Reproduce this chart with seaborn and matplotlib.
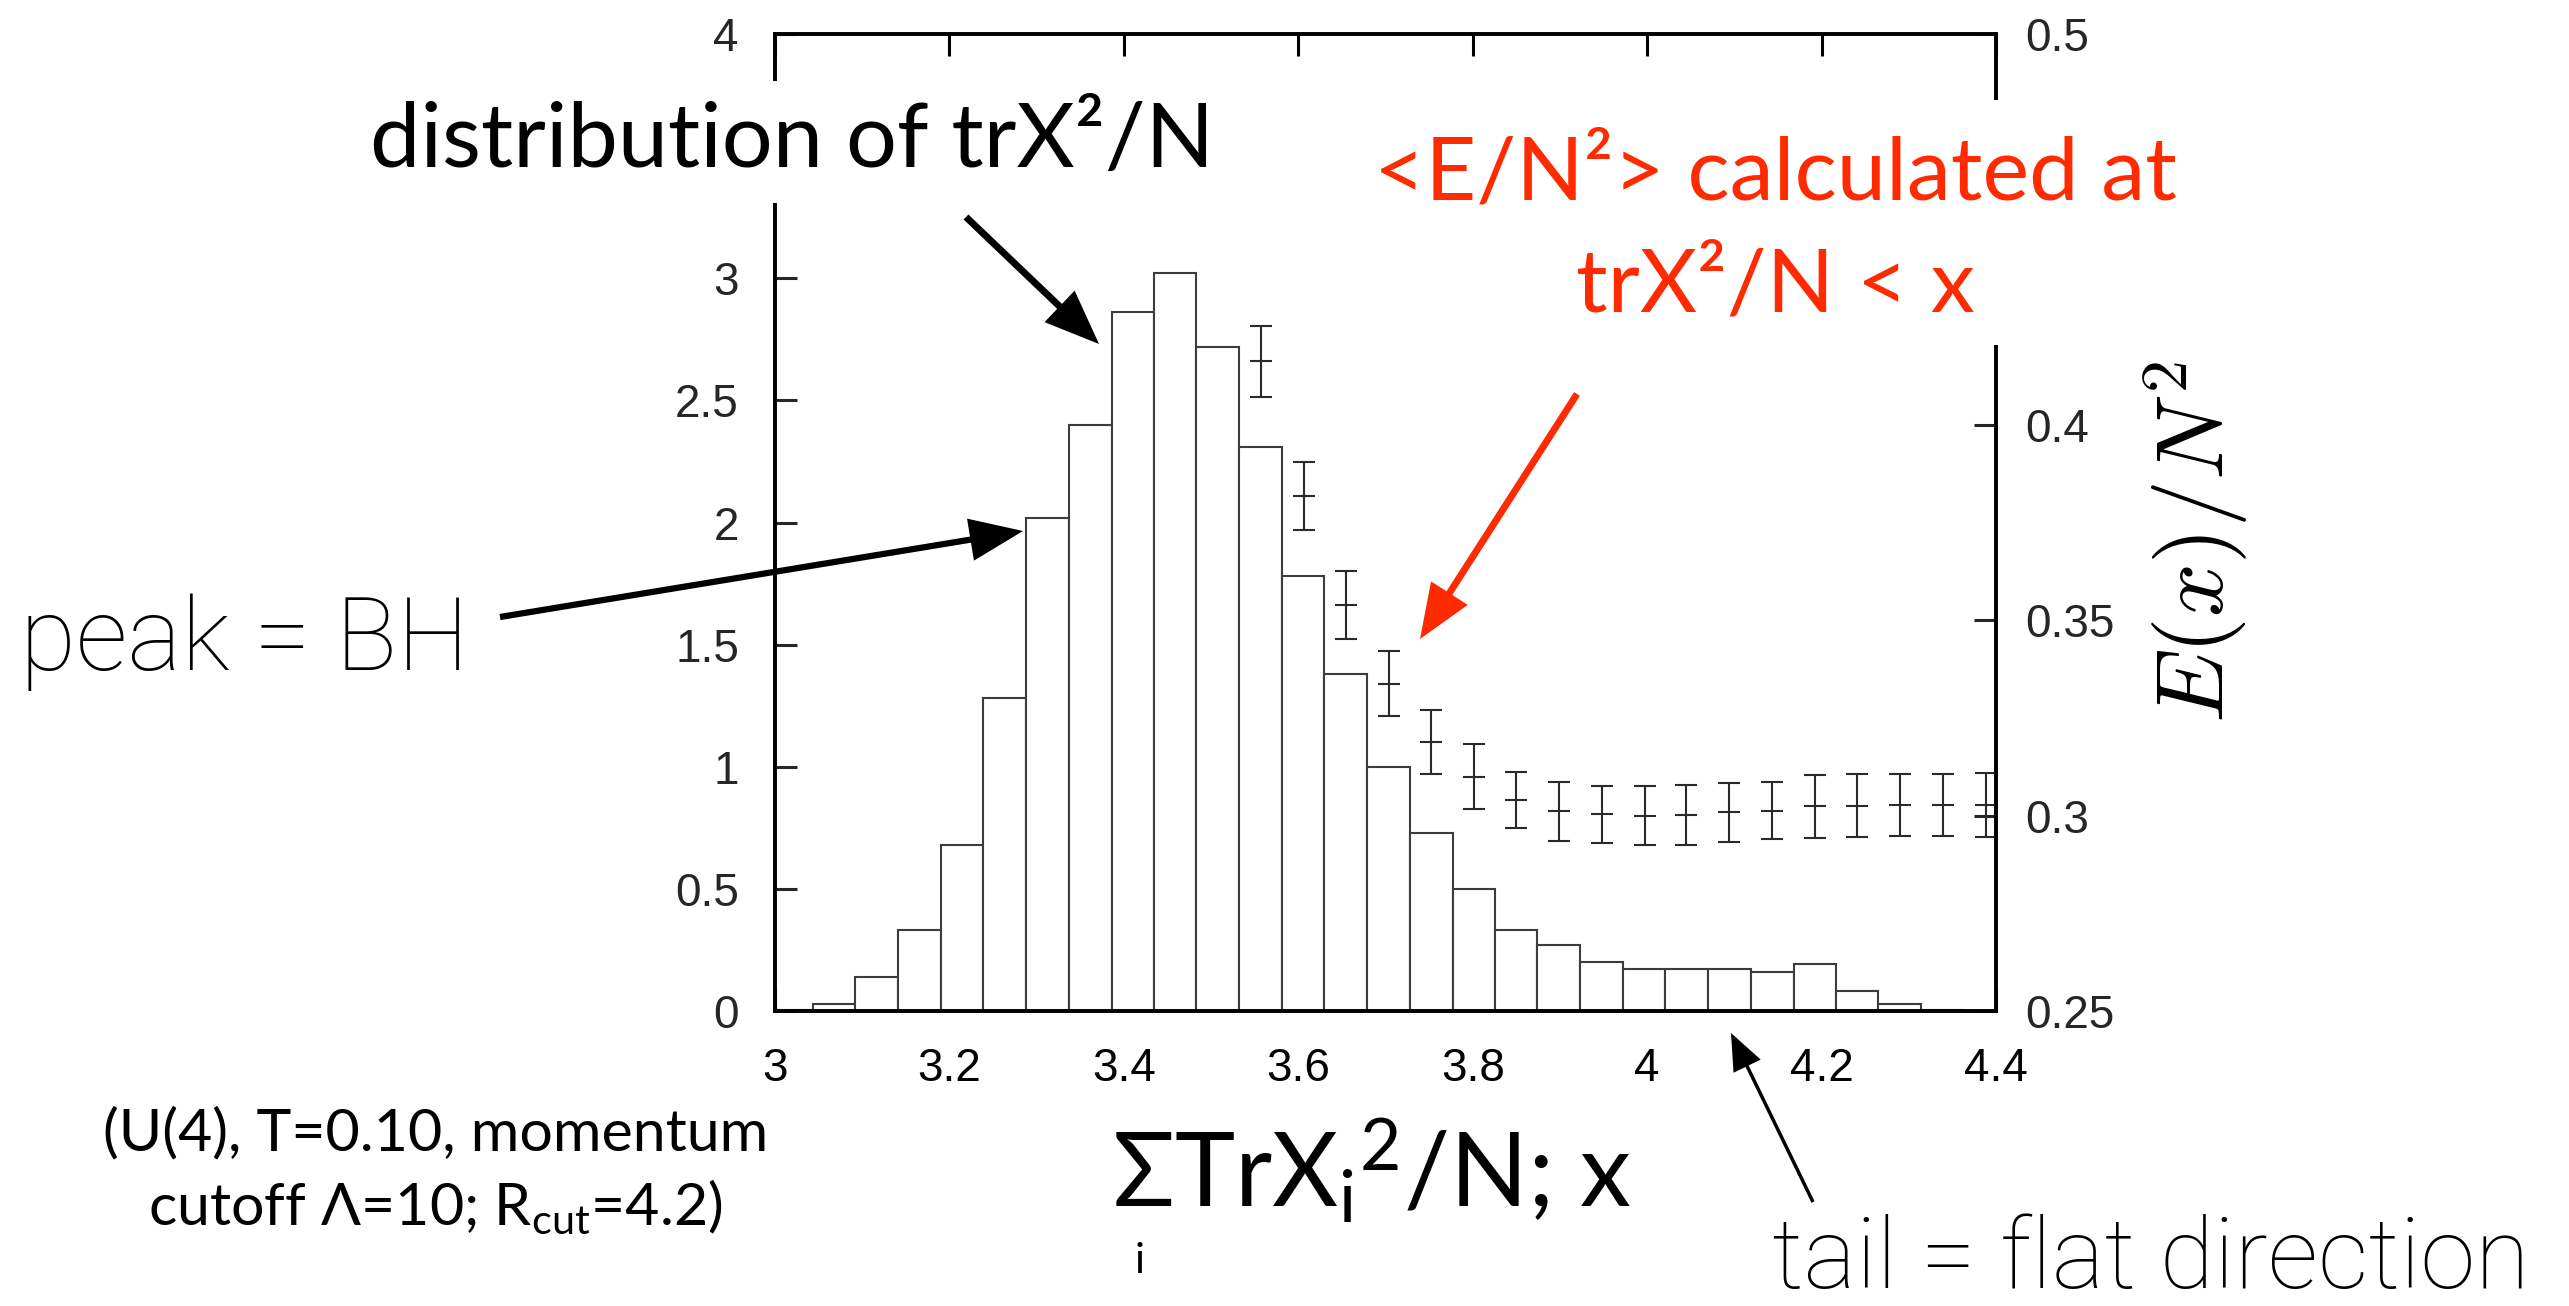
import numpy as np
import pandas as pd
import matplotlib
matplotlib.use("Agg")
import matplotlib.pyplot as plt
from matplotlib.patches import FancyArrowPatch, ArrowStyle, Rectangle
import seaborn as sns

# ---------------- data ----------------
bin_edges = [2.995, 3.044, 3.092, 3.141, 3.190, 3.239, 3.288, 3.337, 3.386, 3.434,
             3.483, 3.532, 3.581, 3.630, 3.679, 3.728, 3.777, 3.826, 3.874, 3.923,
             3.972, 4.021, 4.070, 4.119, 4.168, 4.217, 4.265, 4.314, 4.363, 4.412]
bin_heights = [0.004, 0.03, 0.14, 0.33, 0.68, 1.28, 2.02, 2.40, 2.86, 3.02,
               2.72, 2.31, 1.78, 1.38, 1.00, 0.73, 0.50, 0.33, 0.27, 0.20,
               0.173, 0.173, 0.172, 0.158, 0.193, 0.083, 0.029, 0.006, 0.0]

e_x = [3.557, 3.606, 3.655, 3.704, 3.752, 3.801, 3.850, 3.899, 3.948,
       3.997, 4.045, 4.094, 4.143, 4.192, 4.241, 4.290, 4.339, 4.388]
e_y = [0.4162, 0.3817, 0.3538, 0.3338, 0.3188, 0.3099, 0.3039, 0.3011, 0.3003,
       0.3000, 0.3001, 0.3008, 0.3012, 0.3024, 0.3025, 0.3027, 0.3027, 0.3027]
e_err = [0.0090, 0.0087, 0.0087, 0.0084, 0.0082, 0.0083, 0.0072, 0.0076, 0.0074,
         0.0075, 0.0077, 0.0076, 0.0073, 0.0081, 0.0081, 0.0080, 0.0080, 0.0082]

x_ticks = [3.0, 3.2, 3.4, 3.6, 3.8, 4.0, 4.2, 4.4]
x_labels = ["3", "3.2", "3.4", "3.6", "3.8", "4", "4.2", "4.4"]
yl_ticks = [0, 0.5, 1, 1.5, 2, 2.5, 3, 3.5, 4]
yl_labels = ["0", "0.5", "1", "1.5", "2", "2.5", "3", "", "4"]
yr_ticks = [0.25, 0.30, 0.35, 0.40, 0.45, 0.50]
yr_labels = ["0.25", "0.3", "0.35", "0.4", "", "0.5"]

# ---------------- style ----------------
sns.set_style("white")
plt.rcParams["font.family"] = ["Liberation Sans", "DejaVu Sans"]
plt.rcParams["mathtext.fontset"] = "custom"
plt.rcParams["mathtext.rm"] = "Lato"
plt.rcParams["mathtext.it"] = "Lato:italic"
plt.rcParams["mathtext.bf"] = "Lato:bold"

W, H = 2569, 1306
fig = plt.figure(figsize=(W / 100, H / 100), dpi=100)
fig.patch.set_facecolor("white")

L, R, T, B = 775, 1996, 34, 1011
ax = fig.add_axes([L / W, 1 - B / H, (R - L) / W, (B - T) / H])

centers = [(a + b) / 2 for a, b in zip(bin_edges[:-1], bin_edges[1:])]
df = pd.DataFrame({"x": centers, "w": bin_heights})
sns.histplot(data=df, x="x", weights="w", bins=bin_edges, stat="count",
             color="white", edgecolor="#3c3c3c", linewidth=1.5, alpha=1, ax=ax)
ax.set_xlim(3.0, 4.4)
ax.set_ylim(0, 4)
ax.set_xlabel("")
ax.set_ylabel("")
ax.set_xticks(x_ticks)
ax.set_xticklabels(x_labels)
ax.set_yticks(yl_ticks)
ax.set_yticklabels(yl_labels)

ax2 = ax.twinx()
ax2.errorbar(e_x, e_y, yerr=e_err, fmt="_", ms=16, mew=1.5, color="#2a2a2a",
             ecolor="#2a2a2a", elinewidth=1.5, capsize=8, capthick=1.5)
ax2.set_ylim(0.25, 0.5)
ax2.set_yticks(yr_ticks)
ax2.set_yticklabels(yr_labels)

for a in (ax, ax2):
    for s in a.spines.values():
        s.set_linewidth(2.6)
        s.set_color("black")
        s.set_visible(True)

ax.tick_params(axis="x", which="both", direction="in", top=True, bottom=True,
               length=16, width=2.2, labelsize=33, pad=26, colors="black")
ax.tick_params(axis="y", direction="in", left=True, right=False,
               length=16, width=2.2, labelsize=33, pad=26)
ax2.tick_params(axis="y", direction="in", left=False, right=True,
                length=16, width=2.2, labelsize=33, pad=21)

renderer = fig.canvas.get_renderer()


def place(s, x, y, target_w=None, target_h=None, size=60, ha="left",
          va="baseline", **kw):
    t = fig.text(x / W, 1 - y / H, s, ha=ha, va=va, fontsize=size, **kw)
    if target_w is not None or target_h is not None:
        ext = t.get_window_extent(renderer)
        if target_w is not None:
            t.set_fontsize(size * target_w / ext.width)
        else:
            t.set_fontsize(size * target_h / ext.height)
    return t


gill = ["Lato", "DejaVu Sans"]
helv_light = ["Roboto", "DejaVu Sans"]
red = "#ff2a00"
white_box = dict(boxstyle="square,pad=0.22", fc="white", ec="none")

place("distribution of trX²/N", 792, 167, target_w=846, ha="center",
      family=gill, color="black", bbox=white_box)

# white panel behind the red two-line note (it hides the right axis there)
fig.add_artist(Rectangle((1350 / W, 1 - 345 / H), (2205 - 1350) / W, (345 - 100) / H,
                         transform=fig.transFigure, fc="white", ec="none", zorder=2.5))
t1 = place("<E/N²> calculated at", 1775, 200, target_w=803, ha="center",
           family=gill, color=red)
place("trX²/N < x", 1775, 312, size=t1.get_fontsize(), ha="center",
      family=gill, color=red)

place("peak = BH", 20, 670, target_w=449, family=helv_light,
      fontweight="light", color="black")
place("tail = flat direction", 1772, 1288, target_w=758, family=helv_light,
      fontweight="light", color="black")

tu = place("(U(4), T=0.10, momentum", 436, 1150, target_w=667, ha="center",
           family=gill, color="black")
place(r"cutoff Λ=10; R$_{\mathrm{cut}}$=4.2)", 435, 1225,
      size=tu.get_fontsize(), ha="center", family=gill, color="black")

place(r"ΣTrX$_{\mathrm{i}}$$^{\mathrm{2}}$/N; x", 1112, 1207, target_w=520,
      family=gill, color="black")
place("i", 1140, 1273, size=30, ha="center", family=gill, color="black")

place(r"$E(x)/N^2$", 2197, 542, target_h=362, size=60, ha="center",
      va="center", rotation=90, math_fontfamily="cm", color="black")


def arrow(x1, y1, x2, y2, lw, color, hl, hw):
    p = FancyArrowPatch((x1 / W, 1 - y1 / H), (x2 / W, 1 - y2 / H),
                        transform=fig.transFigure,
                        arrowstyle=ArrowStyle("-|>", head_length=hl, head_width=hw),
                        mutation_scale=10, lw=lw, color=color,
                        shrinkA=0, shrinkB=0, joinstyle="miter", capstyle="butt")
    fig.add_artist(p)


arrow(966, 217, 1099, 344, 5.0, "black", 3.0, 1.2)
arrow(500, 617, 1023, 531, 4.5, "black", 3.0, 1.2)
arrow(1577, 394, 1420, 639, 5.0, red, 3.0, 1.2)
arrow(1813, 1202, 1731, 1033, 2.5, "black", 2.2, 0.9)

fig.savefig("out.png", dpi=100, facecolor="white")
